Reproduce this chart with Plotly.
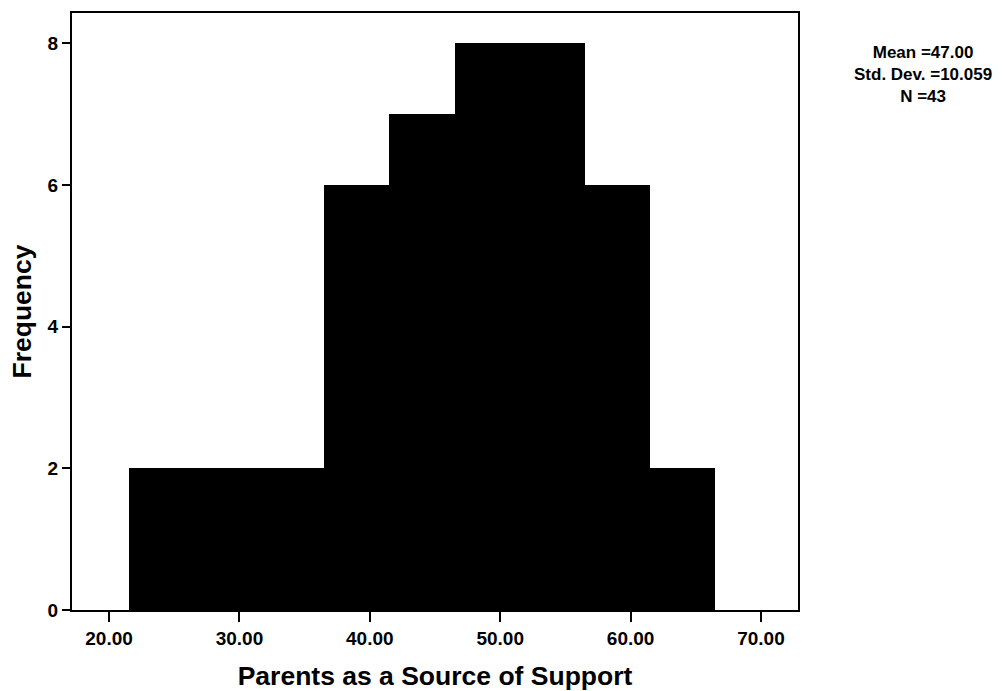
import plotly.graph_objects as go

# Histogram data: bin centers (width 5) and frequencies
bin_centers = [24, 29, 34, 39, 44, 49, 54, 59, 64]
frequencies = [2, 2, 2, 6, 7, 8, 8, 6, 2]
bin_width = 5
x_ticks = [20, 30, 40, 50, 60, 70]
y_ticks = [0, 2, 4, 6, 8]
stats_lines = ["Mean =47.00", "Std. Dev. =10.059", "N =43"]
x_title = "Parents as a Source of Support"
y_title = "Frequency"

FONT = "Liberation Sans, Arial, sans-serif"

fig = go.Figure()
fig.add_trace(go.Bar(
    x=bin_centers,
    y=frequencies,
    width=[bin_width] * len(bin_centers),
    marker=dict(color="black", line=dict(width=0)),
    showlegend=False,
    hoverinfo="x+y",
))

axis_common = dict(
    showline=True, linecolor="black", linewidth=2, mirror=True,
    showgrid=False, zeroline=False, automargin=False,
    ticks="outside", tickcolor="black", tickwidth=2,
    tickfont=dict(family=FONT, size=19, color="black", weight="bold"),
)

fig.update_layout(
    width=1005, height=691,
    margin=dict(l=72, r=207, t=13, b=81),
    paper_bgcolor="white", plot_bgcolor="white",
    bargap=0,
    xaxis=dict(
        range=[17.16, 72.84],
        tickvals=x_ticks,
        ticktext=[f"{v:.2f}" for v in x_ticks],
        ticklen=10,
        title=dict(text=x_title, standoff=21,
                   font=dict(family=FONT, size=26.5, color="black", weight="bold")),
        **axis_common,
    ),
    yaxis=dict(
        range=[0, 8.43],
        tickvals=y_ticks,
        ticklen=8,
        title=dict(text=y_title, standoff=8,
                   font=dict(family=FONT, size=26.5, color="black", weight="bold")),
        **axis_common,
    ),
)

fig.add_annotation(
    text="<br>".join(stats_lines), xref="paper", yref="paper", x=1.172, y=0.897,
    xanchor="center", yanchor="middle", align="center", showarrow=False,
    font=dict(family=FONT, size=17, color="black", weight="bold"),
)

fig.write_html("out.html", config={"displayModeBar": False},
               post_script="document.body.style.margin='0';")
